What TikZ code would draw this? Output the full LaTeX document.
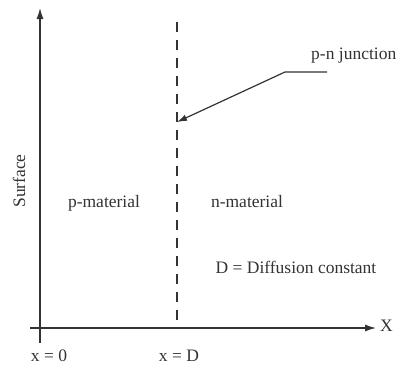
\documentclass[tikz,border=0pt]{standalone}
\usepackage{fontspec}
\setmainfont{Liberation Serif}
\usetikzlibrary{arrows.meta}
\definecolor{ink}{HTML}{333333}
\tikzset{
  axis/.style={draw=ink, line width=1.3pt, -{Latex[length=11pt,width=7pt]}},
  lbl/.style={text=ink, font=\fontsize{17.5}{20}\selectfont, inner sep=0pt},
  junc/.style={draw=ink, line width=1.1pt, dash pattern=on 10pt off 8pt},
  pointer/.style={draw=ink, line width=1.2pt, -{Latex[length=10pt,width=6.5pt]}}
}
\begin{document}
\begin{tikzpicture}[x=1pt,y=-1pt]
\useasboundingbox (0,0) rectangle (402,365);
\coordinate (vb) at (40,343);
\coordinate (vt) at (40,8);
\coordinate (hl) at (30,328);
\coordinate (hr) at (376,328);
\coordinate (dt) at (177,22);
\coordinate (db) at (177,320);
\coordinate (pe) at (327,72);
\coordinate (pk) at (285,72);
\coordinate (ph) at (177,122);
\draw[axis] (vb) -- (vt);
\draw[axis] (hl) -- (hr);
\draw[junc] (dt) -- (db);
\draw[pointer] (pe) -- (pk) -- (ph);
\node[lbl, anchor=west] (pn) at (311,56) {p-n junction};
\node[lbl, rotate=90] (surf) at (19,181) {Surface};
\node[lbl] (pm) at (104,203) {p-material};
\node[lbl] (nm) at (247,202) {n-material};
\node[lbl] (dd) at (296,267) {D = Diffusion constant};
\node[lbl, anchor=west] (xl) at (380,326) {X};
\node[lbl] (x0) at (49,356) {x = 0};
\node[lbl] (xd) at (179,356) {x = D};
\end{tikzpicture}
\end{document}
